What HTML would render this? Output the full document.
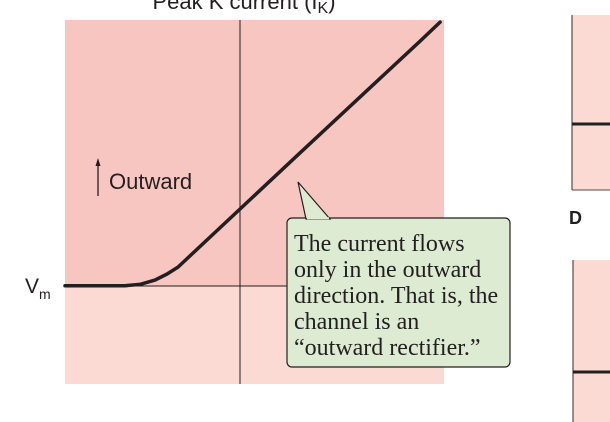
<!DOCTYPE html>
<html><head><meta charset="utf-8"><style>
html,body{margin:0;padding:0;background:#fff;width:610px;height:422px;overflow:hidden}
svg{display:block}
.sans{font-family:"Liberation Sans",sans-serif}
.serif{font-family:"Liberation Serif",serif}
</style></head><body>
<script>
const voltages=[-80,-59.5,-52.6,-45.8,-38.9,-33.4,-28.4,27.3,82,91.2];
const currents=[0,0,0,0.05,0.21,0.44,0.7,5.0,9.2,9.92];
</script>
<svg width="610" height="422" viewBox="0 0 610 422">
<text x="244" y="9" text-anchor="middle" class="sans" font-size="22" fill="#231f20">Peak K current (I<tspan font-size="16" dy="4">K</tspan><tspan dy="-4">)</tspan></text>
<rect x="65" y="20" width="379" height="266" fill="#f8c6c0"/>
<rect x="65" y="286" width="379" height="98" fill="#fbdad3"/>
<line x1="240" y1="20" x2="240" y2="384" stroke="#231f20" stroke-width="1"/>
<line x1="65" y1="286" x2="444" y2="286" stroke="#231f20" stroke-width="1"/>
<text x="25" y="293" class="sans" font-size="21" fill="#231f20">V<tspan font-size="14" dy="6">m</tspan></text>
<line x1="98" y1="196" x2="98" y2="163" stroke="#231f20" stroke-width="1.3"/>
<polygon points="98,158 95.5,166 100.5,166" fill="#231f20"/>
<text x="109" y="189" class="sans" font-size="22" fill="#231f20">Outward</text>
<polyline id="curve" fill="none" stroke="#231f20" stroke-width="3.5" stroke-linejoin="round" stroke-linecap="round"/>
<g>
<rect x="287" y="218" width="223" height="149" rx="5" fill="#dcebd2" stroke="#231f20" stroke-width="1.2"/>
<polygon points="306,219 298,182 330,219" fill="#dcebd2" stroke="#231f20" stroke-width="1.2" stroke-linejoin="miter"/>
<line x1="307" y1="218.2" x2="329" y2="218.2" stroke="#dcebd2" stroke-width="2"/>
<text class="serif" font-size="24" fill="#231f20">
<tspan x="294" y="251">The current flows</tspan>
<tspan x="294" y="277">only in the outward</tspan>
<tspan x="294" y="303">direction. That is, the</tspan>
<tspan x="294" y="329">channel is an</tspan>
<tspan x="294" y="355">“outward rectifier.”</tspan>
</text>
</g>
<g>
<rect x="572" y="15" width="40" height="175" fill="#fbdad3"/>
<line x1="572" y1="15" x2="572" y2="190" stroke="#5a4a48" stroke-width="1.2"/>
<line x1="572" y1="190" x2="610" y2="190" stroke="#5a4a48" stroke-width="1"/>
<line x1="572" y1="124" x2="610" y2="124" stroke="#231f20" stroke-width="3"/>
</g>
<text x="569" y="224" class="sans" font-size="18" font-weight="bold" fill="#231f20">D</text>
<g>
<rect x="573" y="260" width="40" height="162" fill="#fbdad3"/>
<line x1="573" y1="260" x2="573" y2="422" stroke="#5a4a48" stroke-width="1.2"/>
<line x1="573" y1="372" x2="610" y2="372" stroke="#231f20" stroke-width="3"/>
</g>
</svg>
<script>
const xS=v=>65+(v+80)/173*379;
const yS=i=>285.7-i*26.57;
const pts=voltages.map((v,k)=>xS(v).toFixed(1)+','+yS(currents[k]).toFixed(1)).join(' ');
document.getElementById('curve').setAttribute('points',pts);
</script>
</body></html>
